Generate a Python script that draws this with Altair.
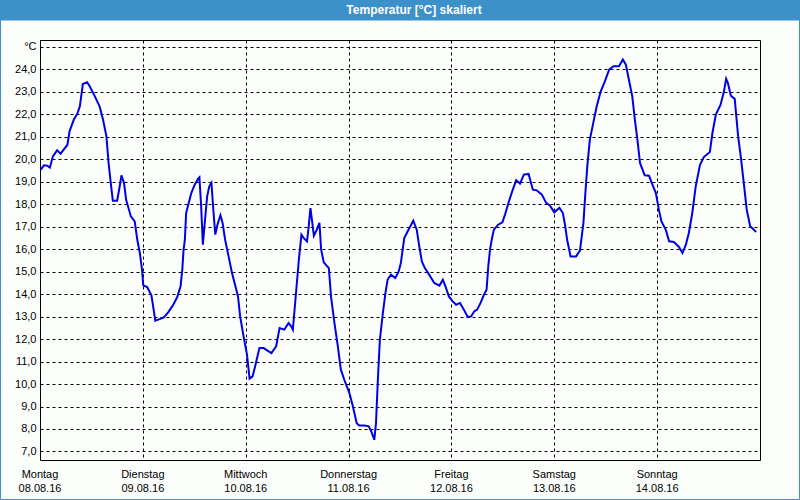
import altair as alt
import pandas as pd

# Hours since Monday 08.08.16 00:00 and temperature in °C
hours = [0.2, 0.9, 1.7, 2.3, 3.0, 4.0, 4.8, 5.8, 6.4, 6.9, 7.9, 8.7, 9.3, 10.0, 11.0, 11.6,
         12.8, 13.9, 14.7, 15.5, 16.0, 16.6, 17.0, 18.0, 18.6, 19.0, 19.6, 20.1, 21.2, 22.1,
         22.7, 23.3, 23.8, 24.1, 25.0, 26.0, 26.4, 26.9, 27.9, 28.9, 29.9, 31.0, 32.0, 32.8,
         33.2, 33.5, 33.8, 34.1, 34.7, 35.3, 36.1, 36.9, 37.2, 37.6, 38.0, 38.3, 39.0, 39.5,
         40.0, 40.5, 40.9, 41.4, 42.1, 42.6, 43.2, 44.0, 44.8, 45.6, 46.2, 46.7, 47.5, 48.3,
         48.9, 49.6, 50.2, 51.2, 52.2, 53.0, 54.0, 55.1, 55.9, 57.0, 58.0, 58.6, 59.0, 59.6,
         60.4, 61.0, 61.5, 62.3, 62.7, 63.1, 63.5, 63.9, 64.6, 65.2, 65.6, 66.2, 67.0, 67.4,
         67.9, 68.7, 69.5, 70.2, 71.0, 72.2, 73.0, 73.9, 74.5, 75.7, 76.7, 77.3, 78.0, 78.4,
         78.8, 79.3, 80.0, 80.6, 81.1, 81.9, 82.9, 83.7, 84.2, 85.0, 85.8, 86.6, 87.1, 87.9,
         88.5, 89.1, 89.8, 90.8, 92.0, 93.2, 94.0, 94.6, 95.4, 96.3, 97.1, 98.0, 98.9, 99.8,
         100.6, 101.3, 102.0, 102.8, 103.6, 104.2, 104.6, 105.0, 105.4, 105.9, 106.9, 107.9,
         108.5, 109.3, 110.1, 111.1, 112.0, 112.9, 114.0, 115.0, 115.9, 117.1, 118.1, 119.0,
         120.0, 121.2, 122.0, 122.5, 123.0, 123.8, 125.1, 126.0, 126.8, 127.2, 127.7, 128.3,
         129.1, 129.9, 130.8, 131.8, 132.8, 133.8, 134.8, 135.1, 136.0, 136.7, 137.4, 138.2,
         138.8, 139.4, 140.0, 141.1, 142.1, 142.9, 143.7, 144.4, 145.0, 146.0, 146.8, 147.9,
         149.1, 149.9, 150.7, 151.4, 152.2, 153.0, 154.0, 154.9, 156.3, 156.9, 157.7, 158.8,
         159.6, 160.1, 160.5, 161.2, 162.1, 162.9, 163.6, 164.3, 164.9, 165.7, 166.4, 167.1]
temps = [19.54, 19.73, 19.72, 19.63, 20.13, 20.40, 20.25, 20.50, 20.65, 21.25, 21.77, 22.03,
         22.36, 23.35, 23.43, 23.25, 22.80, 22.36, 21.77, 21.02, 19.84, 18.80, 18.16, 18.16,
         18.80, 19.29, 18.95, 18.20, 17.46, 17.24, 16.42, 15.83, 15.09, 14.39, 14.32, 13.95,
         13.46, 12.82, 12.89, 12.97, 13.19, 13.50, 13.86, 14.35, 15.09, 15.98, 16.42, 17.61,
         18.06, 18.50, 18.87, 19.14, 19.20, 17.91, 16.20, 16.87, 18.35, 18.80, 18.95, 17.61,
         16.65, 17.09, 17.51, 17.17, 16.42, 15.68, 14.94, 14.35, 13.90, 13.01, 12.12, 11.31,
         10.24, 10.34, 10.79, 11.60, 11.60, 11.50, 11.38, 11.68, 12.49, 12.42, 12.72, 12.57,
         12.42, 13.75, 15.53, 16.65, 16.50, 16.35, 17.02, 17.83, 17.24, 16.60, 16.87, 17.17,
         15.98, 15.42, 15.24, 15.16, 13.90, 12.72, 11.68, 10.64, 10.19, 9.60, 9.01, 8.26,
         8.16, 8.15, 8.12, 7.89, 7.52, 8.26, 10.04, 11.97, 13.16, 14.05, 14.64, 14.87, 14.72,
         15.01, 15.39, 16.50, 16.80, 17.09, 17.27, 16.87, 16.13, 15.46, 15.16, 14.87, 14.50,
         14.38, 14.64, 14.35, 13.90, 13.68, 13.53, 13.61, 13.31, 12.98, 13.01, 13.23, 13.31,
         13.61, 13.98, 14.20, 15.24, 15.98, 16.42, 16.87, 17.09, 17.20, 17.54, 18.06, 18.53,
         19.07, 18.92, 19.32, 19.35, 18.65, 18.62, 18.43, 18.06, 17.94, 17.64, 17.84, 17.61,
         17.09, 16.42, 15.68, 15.68, 15.95, 17.17, 18.35, 19.69, 20.88, 21.62, 22.36, 23.00,
         23.47, 23.99, 24.14, 24.14, 24.14, 24.44, 24.21, 23.55, 22.80, 21.77, 20.88, 19.84,
         19.29, 19.27, 18.87, 18.50, 17.76, 17.24, 16.87, 16.35, 16.32, 16.10, 15.83, 16.20,
         16.72, 17.61, 18.80, 19.76, 20.10, 20.33, 21.17, 21.99, 22.43, 23.03, 23.58, 23.40,
         22.83, 22.69, 21.02, 19.99, 18.80, 17.76, 17.02, 16.90, 16.77]

day_hours = [0, 24, 48, 72, 96, 120, 144]
day_names = ["Montag", "Dienstag", "Mittwoch", "Donnerstag", "Freitag", "Samstag", "Sonntag"]
day_dates = ["08.08.16", "09.08.16", "10.08.16", "11.08.16", "12.08.16", "13.08.16", "14.08.16"]
y_ticks = list(range(7, 26))
title_text = ["Temperatur [°C] skaliert"]

df = pd.DataFrame({"h": hours, "t": temps})
days = pd.DataFrame({"h": day_hours, "name": day_names, "date": day_dates})
tdf = pd.DataFrame({"title": title_text})

FONT = "Liberation Sans"
xs = alt.Scale(domain=[0, 168], nice=False, zero=False)
ys = alt.Scale(domain=[6.62, 25.31], nice=False, zero=False)

line = alt.Chart(df).mark_line(color="#0000e6", strokeWidth=2).encode(
    x=alt.X("h:Q", scale=xs, axis=alt.Axis(
        values=day_hours, labels=False, ticks=False, domain=False, title=None,
        grid=True, gridColor="black", gridDash=[3, 3], gridOpacity=1, gridWidth=1)),
    y=alt.Y("t:Q", scale=ys, axis=alt.Axis(
        values=y_ticks, ticks=False, domain=False, title=None, labelPadding=4,
        labelFont=FONT, labelFontSize=11, labelColor="black",
        labelExpr="datum.value == 25 ? '°C' : replace(format(datum.value, '.1f'), '.', ',')",
        grid=True, gridColor="black", gridDash=[3, 3], gridOpacity=1, gridWidth=1)),
)

name_txt = alt.Chart(days).mark_text(font=FONT, fontSize=11, color="black",
                                     align="center", baseline="middle").encode(
    x=alt.X("h:Q", scale=xs), y=alt.value(435), text="name:N")
date_txt = alt.Chart(days).mark_text(font=FONT, fontSize=11, color="black",
                                     align="center", baseline="middle").encode(
    x=alt.X("h:Q", scale=xs), y=alt.value(449), text="date:N")

bar = alt.Chart(tdf).mark_rect(color="#3c91c8").encode(
    x=alt.value(-40), x2=alt.value(760), y=alt.value(-40), y2=alt.value(-20))
title = alt.Chart(tdf).mark_text(font=FONT, fontSize=12, fontWeight="bold", color="white",
                                 align="center", baseline="middle").encode(
    x=alt.value(374), y=alt.value(-30), text="title:N")
border = alt.Chart(tdf).mark_rect(filled=False, stroke="#3c91c8", strokeWidth=1).encode(
    x=alt.value(-39.5), x2=alt.value(759.5), y=alt.value(-20), y2=alt.value(459.5))

chart = alt.layer(line, name_txt, date_txt, bar, title, border).properties(
    width=720, height=420,
    autosize=alt.AutoSizeParams(type="none"),
    padding={"left": 40, "top": 40, "right": 40, "bottom": 40},
    background="#fcfefc",
).configure_view(stroke="black", strokeWidth=1)

chart.save("out.html", embed_options={"renderer": "svg", "actions": False})
